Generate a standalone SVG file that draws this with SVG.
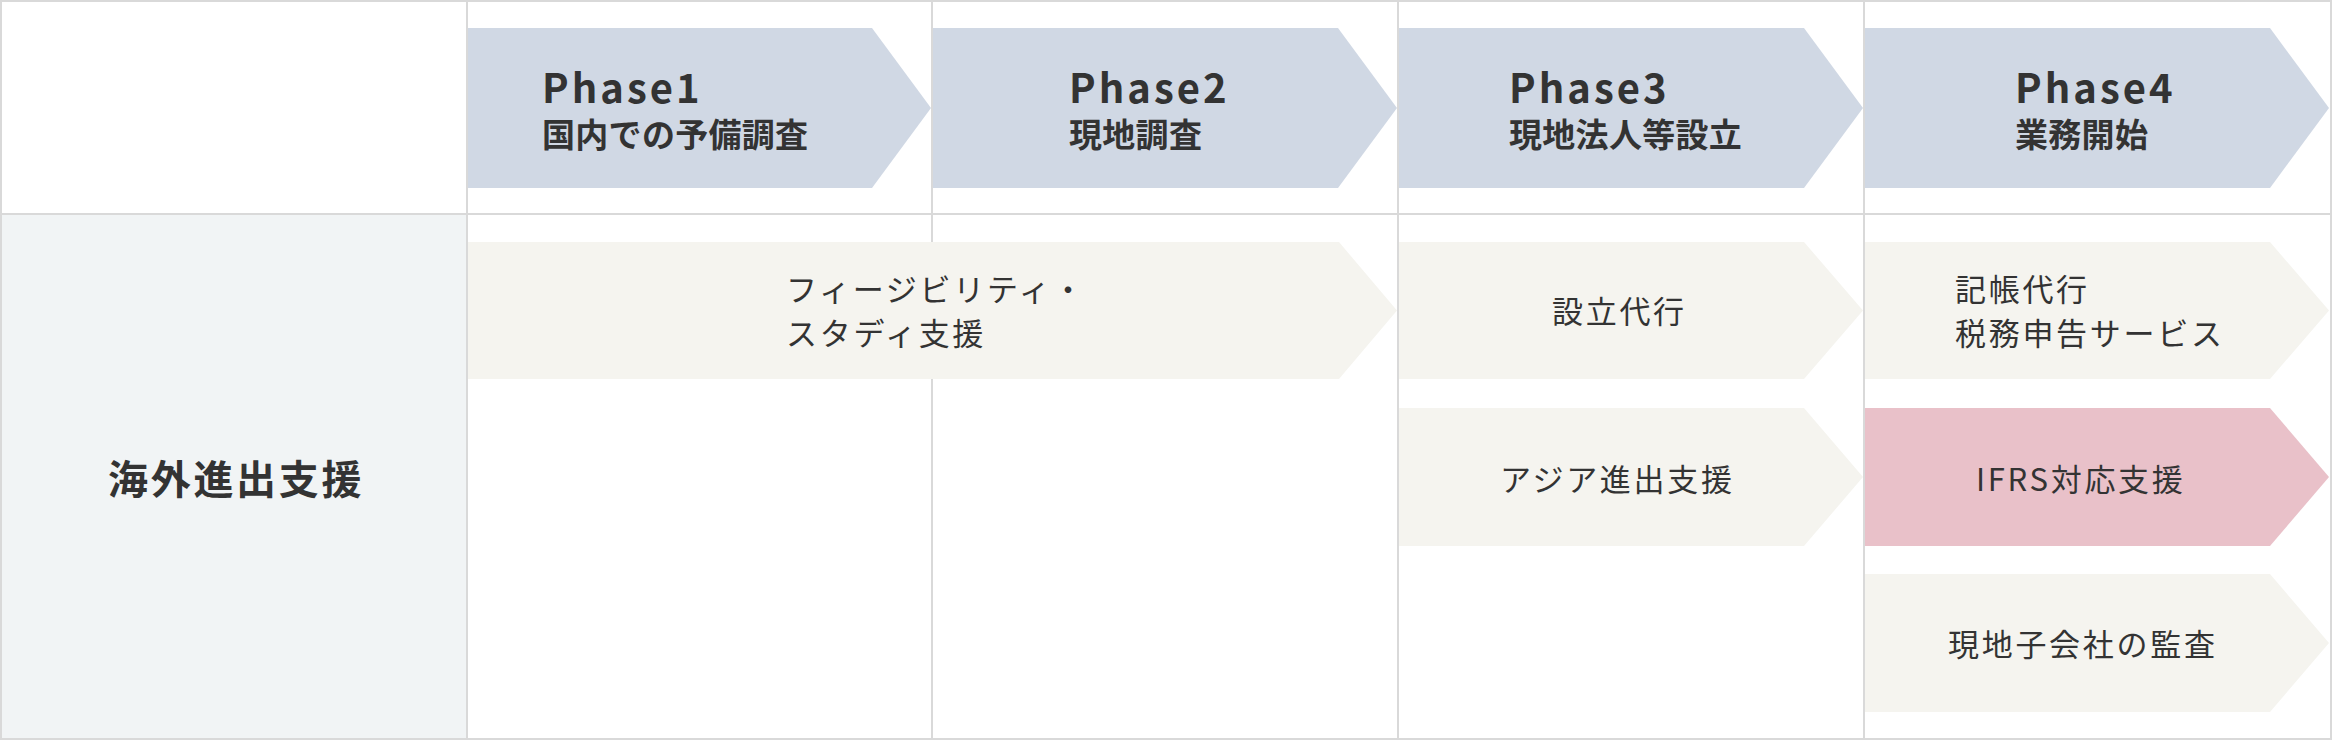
<svg xmlns="http://www.w3.org/2000/svg" width="2332" height="740" viewBox="0 0 2332 740">
<style>
.grid line{stroke:#d9d9d9;stroke-width:2}
.ph{fill:#d0d8e4}
.it{fill:#f5f4ef}
.pk{fill:#e9c1c9}
text{font-family:"Noto Sans CJK JP","Noto Sans",sans-serif;fill:#333}
.tt{font-size:40px;font-weight:700;letter-spacing:3px}
.st{font-size:33px;font-weight:700;letter-spacing:0.3px}
.bt{font-size:31px;font-weight:400;letter-spacing:2.7px}
.lb{font-size:40px;font-weight:700;letter-spacing:2.7px}
</style>
<rect x="0" y="0" width="2332" height="740" fill="#ffffff"/>
<rect x="1" y="214" width="466" height="525" fill="#f1f4f5"/>
<g class="grid">
<line x1="0" y1="1" x2="2332" y2="1"/>
<line x1="0" y1="739" x2="2332" y2="739"/>
<line x1="1" y1="0" x2="1" y2="740"/>
<line x1="2331" y1="0" x2="2331" y2="740"/>
<line x1="0" y1="214" x2="2332" y2="214"/>
<line x1="467" y1="0" x2="467" y2="740"/>
<line x1="932" y1="0" x2="932" y2="740"/>
<line x1="1398" y1="0" x2="1398" y2="740"/>
<line x1="1864" y1="0" x2="1864" y2="740"/>
</g>
<g id="phase1">
<polygon class="ph" points="468,28 872,28 931,108 872,188 468,188"/>
<text class="tt" x="542" y="103">Phase1</text>
<text class="st" x="542" y="147">国内での予備調査</text>
</g>
<g id="phase2">
<polygon class="ph" points="933,28 1338,28 1397,108 1338,188 933,188"/>
<text class="tt" x="1069" y="103">Phase2</text>
<text class="st" x="1069" y="147">現地調査</text>
</g>
<g id="phase3">
<polygon class="ph" points="1399,28 1804,28 1863,108 1804,188 1399,188"/>
<text class="tt" x="1509" y="103">Phase3</text>
<text class="st" x="1509" y="147">現地法人等設立</text>
</g>
<g id="phase4">
<polygon class="ph" points="1865,28 2270,28 2329,108 2270,188 1865,188"/>
<text class="tt" x="2015" y="103">Phase4</text>
<text class="st" x="2015" y="147">業務開始</text>
</g>
<g id="label">
<text class="lb" x="108" y="494">海外進出支援</text>
</g>
<g id="feasibility">
<polygon class="it" points="468,242 1339,242 1397,310.5 1339,379 468,379"/>
<text class="bt" x="786" y="301">フィージビリティ・</text>
<text class="bt" x="786" y="345">スタディ支援</text>
</g>
<g id="setsuritsu">
<polygon class="it" points="1399,242 1804,242 1863,310.5 1804,379 1399,379"/>
<text class="bt" x="1552" y="323">設立代行</text>
</g>
<g id="kicho">
<polygon class="it" points="1865,242 2270,242 2329,310.5 2270,379 1865,379"/>
<text class="bt" x="1955" y="301">記帳代行</text>
<text class="bt" x="1955" y="345">税務申告サービス</text>
</g>
<g id="asia">
<polygon class="it" points="1399,408 1804,408 1863,477 1804,546 1399,546"/>
<text class="bt" x="1500" y="491">アジア進出支援</text>
</g>
<g id="ifrs">
<polygon class="pk" points="1865,408 2270,408 2329,477 2270,546 1865,546"/>
<text class="bt" x="1976" y="491">IFRS対応支援</text>
</g>
<g id="audit">
<polygon class="it" points="1865,574 2270,574 2329,643 2270,712 1865,712"/>
<text class="bt" x="1948" y="656">現地子会社の監査</text>
</g>
</svg>
